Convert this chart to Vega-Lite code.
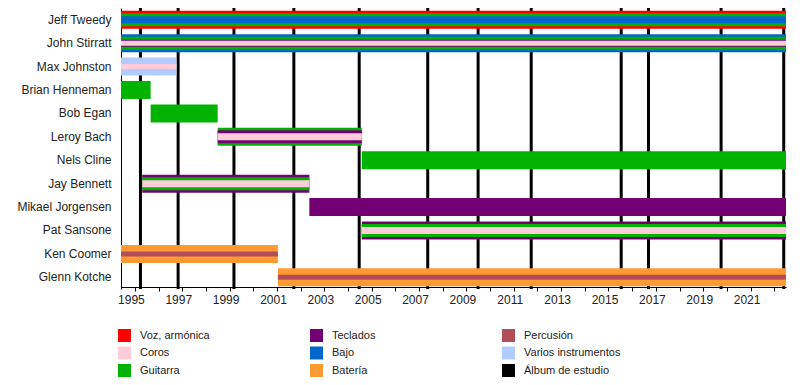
{
  "$schema": "https://vega.github.io/schema/vega-lite/v6.json",
  "autosize": {"type": "none"},
  "width": 665,
  "height": 281,
  "padding": {"left": 121, "top": 8, "right": 14, "bottom": 96},
  "background": "white",
  "config": {
    "view": {"stroke": null},
    "font": "Liberation Sans",
    "axis": {"labelFont": "Liberation Sans", "labelFontSize": 12, "labelColor": "#222", "grid": false}
  },
  "datasets": {
    "miembros": [
      {"miembro": "Jeff Tweedy", "inicio": "1994-06-01", "fin": "2022-07-01", "rol": "Voz, armónica", "nivel": 1},
      {"miembro": "Jeff Tweedy", "inicio": "1994-06-01", "fin": "2022-07-01", "rol": "Guitarra", "nivel": 2},
      {"miembro": "Jeff Tweedy", "inicio": "1994-06-01", "fin": "2022-07-01", "rol": "Bajo", "nivel": 3},
      {"miembro": "John Stirratt", "inicio": "1994-06-01", "fin": "2022-07-01", "rol": "Bajo", "nivel": 1},
      {"miembro": "John Stirratt", "inicio": "1994-06-01", "fin": "2022-07-01", "rol": "Guitarra", "nivel": 2},
      {"miembro": "John Stirratt", "inicio": "1994-06-01", "fin": "2022-07-01", "rol": "Teclados", "nivel": 3},
      {"miembro": "John Stirratt", "inicio": "1994-06-01", "fin": "2022-07-01", "rol": "Coros", "nivel": 4},
      {"miembro": "Max Johnston", "inicio": "1994-06-01", "fin": "1996-10-01", "rol": "Varios instrumentos", "nivel": 1},
      {"miembro": "Max Johnston", "inicio": "1994-06-01", "fin": "1996-10-01", "rol": "Coros", "nivel": 4},
      {"miembro": "Brian Henneman", "inicio": "1994-06-01", "fin": "1995-09-01", "rol": "Guitarra", "nivel": 1},
      {"miembro": "Bob Egan", "inicio": "1995-09-01", "fin": "1998-07-01", "rol": "Guitarra", "nivel": 1},
      {"miembro": "Leroy Bach", "inicio": "1998-07-01", "fin": "2004-08-01", "rol": "Guitarra", "nivel": 1},
      {"miembro": "Leroy Bach", "inicio": "1998-07-01", "fin": "2004-08-01", "rol": "Teclados", "nivel": 2},
      {"miembro": "Leroy Bach", "inicio": "1998-07-01", "fin": "2004-08-01", "rol": "Coros", "nivel": 3},
      {"miembro": "Nels Cline", "inicio": "2004-08-01", "fin": "2022-07-01", "rol": "Guitarra", "nivel": 1},
      {"miembro": "Jay Bennett", "inicio": "1995-04-25", "fin": "2002-05-15", "rol": "Teclados", "nivel": 1},
      {"miembro": "Jay Bennett", "inicio": "1995-04-25", "fin": "2002-05-15", "rol": "Guitarra", "nivel": 2},
      {"miembro": "Jay Bennett", "inicio": "1995-04-25", "fin": "2002-05-15", "rol": "Coros", "nivel": 3},
      {"miembro": "Mikael Jorgensen", "inicio": "2002-05-15", "fin": "2022-07-01", "rol": "Teclados", "nivel": 1},
      {"miembro": "Pat Sansone", "inicio": "2004-08-01", "fin": "2022-07-01", "rol": "Teclados", "nivel": 1},
      {"miembro": "Pat Sansone", "inicio": "2004-08-01", "fin": "2022-07-01", "rol": "Guitarra", "nivel": 2},
      {"miembro": "Pat Sansone", "inicio": "2004-08-01", "fin": "2022-07-01", "rol": "Coros", "nivel": 3},
      {"miembro": "Ken Coomer", "inicio": "1994-06-01", "fin": "2001-01-15", "rol": "Batería", "nivel": 1},
      {"miembro": "Ken Coomer", "inicio": "1994-06-01", "fin": "2001-01-15", "rol": "Percusión", "nivel": 4},
      {"miembro": "Glenn Kotche", "inicio": "2001-01-15", "fin": "2022-07-01", "rol": "Batería", "nivel": 1},
      {"miembro": "Glenn Kotche", "inicio": "2001-01-15", "fin": "2022-07-01", "rol": "Percusión", "nivel": 4}
    ],
    "albumes": [
      {"album": "A.M.", "fecha": "1995-03-28", "rol": "Álbum de estudio"},
      {"album": "Being There", "fecha": "1996-10-29", "rol": "Álbum de estudio"},
      {"album": "Summerteeth", "fecha": "1999-03-09", "rol": "Álbum de estudio"},
      {"album": "Yankee Hotel Foxtrot", "fecha": "2001-09-18", "rol": "Álbum de estudio"},
      {"album": "A Ghost Is Born", "fecha": "2004-06-22", "rol": "Álbum de estudio"},
      {"album": "Sky Blue Sky", "fecha": "2007-05-15", "rol": "Álbum de estudio"},
      {"album": "Wilco (The Album)", "fecha": "2009-06-30", "rol": "Álbum de estudio"},
      {"album": "The Whole Love", "fecha": "2011-09-27", "rol": "Álbum de estudio"},
      {"album": "Star Wars", "fecha": "2015-07-16", "rol": "Álbum de estudio"},
      {"album": "Schmilco", "fecha": "2016-09-09", "rol": "Álbum de estudio"},
      {"album": "Ode to Joy", "fecha": "2019-10-04", "rol": "Álbum de estudio"},
      {"album": "Cruel Country", "fecha": "2022-05-27", "rol": "Álbum de estudio"}
    ]
  },
  "layer": [
    {
      "data": {"name": "albumes"},
      "mark": {"type": "rule", "strokeWidth": 3},
      "encoding": {
        "x": {
          "field": "fecha", "type": "temporal",
          "scale": {"type": "utc", "domain": ["1994-06-01", "2022-07-01"]},
          "axis": {
            "title": null,
            "offset": -2,
            "tickCount": {"interval": "year", "step": 1},
            "labelExpr": "utcyear(datum.value) % 2 == 1 ? utcFormat(datum.value, '%Y') : ''",
            "labelOffset": -4,
            "labelOverlap": false,
            "labelFlush": false,
            "domainColor": "black",
            "tickColor": "black",
            "tickSize": 4,
            "labelPadding": 3
          }
        },
        "color": {
          "field": "rol", "type": "nominal",
          "scale": {
            "domain": ["Voz, armónica", "Teclados", "Percusión", "Coros", "Bajo", "Varios instrumentos", "Guitarra", "Batería", "Álbum de estudio"],
            "range": ["#FF0000", "#730073", "#B34D59", "#FFCCD9", "#0066CC", "#B3CCFF", "#00B300", "#FF9933", "#000000"]
          },
          "legend": {
            "title": null,
            "orient": "none",
            "legendX": -3,
            "legendY": 321,
            "columns": 3,
            "direction": "horizontal",
            "gridAlign": "all",
            "columnPadding": 73,
            "rowPadding": 4.5,
            "symbolType": "square",
            "symbolSize": 169,
            "symbolStrokeWidth": 0,
            "symbolOpacity": 1,
            "labelFont": "Liberation Sans",
            "labelFontSize": 11,
            "labelColor": "#222",
            "labelOffset": 9,
            "labelLimit": 200,
            "padding": 0
          }
        }
      }
    },
    {
      "data": {"name": "miembros"},
      "transform": [{"filter": "datum.nivel == 1"}],
      "mark": {"type": "bar", "size": 18},
      "encoding": {
        "y": {
          "field": "miembro", "type": "nominal",
          "sort": ["Jeff Tweedy", "John Stirratt", "Max Johnston", "Brian Henneman", "Bob Egan", "Leroy Bach", "Nels Cline", "Jay Bennett", "Mikael Jorgensen", "Pat Sansone", "Ken Coomer", "Glenn Kotche"],
          "scale": {"paddingInner": 0, "paddingOuter": 0},
          "axis": {"title": null, "ticks": false, "domainColor": "black", "labelPadding": 10}
        },
        "x": {"field": "inicio", "type": "temporal"},
        "x2": {"field": "fin"},
        "color": {"field": "rol", "type": "nominal"}
      }
    },
    {
      "data": {"name": "miembros"},
      "transform": [{"filter": "datum.nivel == 2"}],
      "mark": {"type": "bar", "size": 13},
      "encoding": {
        "y": {"field": "miembro", "type": "nominal", "sort": ["Jeff Tweedy", "John Stirratt", "Max Johnston", "Brian Henneman", "Bob Egan", "Leroy Bach", "Nels Cline", "Jay Bennett", "Mikael Jorgensen", "Pat Sansone", "Ken Coomer", "Glenn Kotche"]},
        "x": {"field": "inicio", "type": "temporal"},
        "x2": {"field": "fin"},
        "color": {"field": "rol", "type": "nominal"}
      }
    },
    {
      "data": {"name": "miembros"},
      "transform": [{"filter": "datum.nivel == 3"}],
      "mark": {"type": "bar", "size": 7},
      "encoding": {
        "y": {"field": "miembro", "type": "nominal", "sort": ["Jeff Tweedy", "John Stirratt", "Max Johnston", "Brian Henneman", "Bob Egan", "Leroy Bach", "Nels Cline", "Jay Bennett", "Mikael Jorgensen", "Pat Sansone", "Ken Coomer", "Glenn Kotche"]},
        "x": {"field": "inicio", "type": "temporal"},
        "x2": {"field": "fin"},
        "color": {"field": "rol", "type": "nominal"}
      }
    },
    {
      "data": {"name": "miembros"},
      "transform": [{"filter": "datum.nivel == 4"}],
      "mark": {"type": "bar", "size": 5},
      "encoding": {
        "y": {"field": "miembro", "type": "nominal", "sort": ["Jeff Tweedy", "John Stirratt", "Max Johnston", "Brian Henneman", "Bob Egan", "Leroy Bach", "Nels Cline", "Jay Bennett", "Mikael Jorgensen", "Pat Sansone", "Ken Coomer", "Glenn Kotche"]},
        "x": {"field": "inicio", "type": "temporal"},
        "x2": {"field": "fin"},
        "color": {"field": "rol", "type": "nominal"}
      }
    }
  ]
}
